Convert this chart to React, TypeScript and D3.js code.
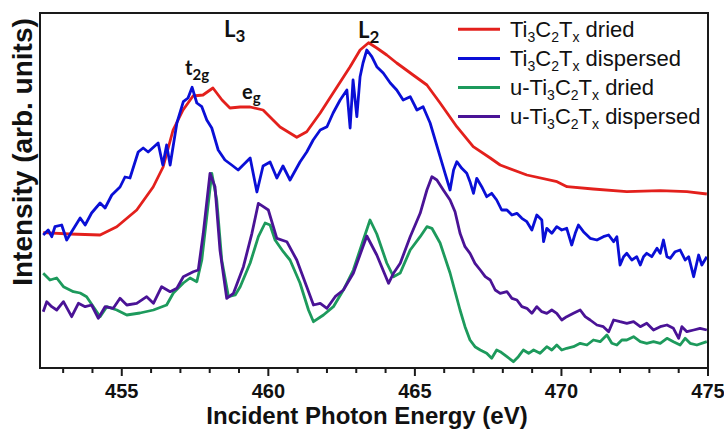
import React from 'react';
import * as d3 from 'd3';

const WIDTH = 724;
const HEIGHT = 430;
const PLOT = { left: 40, right: 708, top: 13, bottom: 368 };

const X_DOMAIN: [number, number] = [452.21, 475];
const Y_DOMAIN: [number, number] = [0, 355];
const MAJOR_TICKS = [455, 460, 465, 470, 475];
const MINOR_TICKS = [453, 454, 456, 457, 458, 459, 461, 462, 463, 464, 466, 467, 468, 469, 471, 472, 473, 474];

// Ti3C2Tx dried
const driedEnergy = [452.32, 453.23, 454.26, 454.83, 455.51, 456.07, 456.41, 456.75, 457.09, 457.43, 457.77, 458.11, 458.42, 458.69, 459.04, 459.38, 459.82, 460.16, 460.4, 460.97, 461.31, 461.77, 462.21, 462.79, 463.13, 463.42, 463.7, 464.04, 464.38, 464.94, 465.41, 465.86, 466.43, 466.99, 467.57, 467.91, 468.82, 469.85, 470.19, 471.08, 472.23, 473.37, 474.28, 474.96];
const driedIntensity = [135.3, 134, 133, 141.3, 158, 181, 201, 238, 258, 272, 273, 280, 268, 260, 261, 261, 258, 248, 241, 230.7, 236.3, 255, 275, 301.3, 318, 325.3, 320, 313, 305, 293, 283, 265, 241.3, 221.3, 210, 203, 193, 186.3, 181.3, 179, 176.3, 177.3, 176.3, 174];

// Ti3C2Tx dispersed
const dispEnergy = [452.32, 452.49, 452.61, 452.72, 452.95, 453.12, 453.29, 453.58, 453.75, 453.97, 454.26, 454.43, 454.66, 454.94, 455.11, 455.28, 455.56, 455.73, 455.9, 456.24, 456.4, 456.53, 456.65, 456.88, 457.1, 457.26, 457.4, 457.56, 457.73, 457.9, 458.07, 458.29, 458.52, 458.75, 458.97, 459.38, 459.61, 459.82, 460.06, 460.29, 460.5, 460.74, 461.08, 461.31, 461.53, 461.77, 462.0, 462.21, 462.45, 462.68, 462.79, 462.89, 463.02, 463.13, 463.23, 463.36, 463.53, 463.7, 463.92, 464.16, 464.38, 464.6, 464.84, 465.07, 465.28, 465.52,
  465.86, 466.03, 466.2, 466.32, 466.43, 466.6, 466.77, 466.88, 467.0, 467.11, 467.28, 467.45, 467.62, 467.79, 467.96, 468.14, 468.31, 468.48, 468.65, 468.82, 468.99, 469.16, 469.33,
  469.39, 469.5, 469.67, 469.84, 470.01, 470.18, 470.35, 470.47, 470.58, 470.75, 470.98, 471.21, 471.43, 471.61, 471.78, 471.89, 472.0, 472.12, 472.23, 472.4, 472.57, 472.69, 472.8, 472.91, 473.08, 473.26, 473.37, 473.48, 473.6, 473.71, 473.88, 474.05, 474.22, 474.34, 474.51, 474.68, 474.79, 474.96];
const dispIntensity = [133, 138, 131.3, 141.3, 143, 128, 136.3, 150, 143, 155, 165, 160, 173, 181, 191, 190, 216, 220, 216, 225, 203, 223, 203, 245, 266.3, 270, 280.7, 265, 261.3, 248, 240, 218, 208, 203, 198, 210, 176, 202, 206, 190, 202, 188, 206, 216, 228, 238, 241.3, 255, 268, 278, 240, 288, 251.3, 291.3, 305, 318, 311.3, 301.3, 295, 285, 278, 268, 271.3, 258, 261.3, 245,
  211.3, 194.7, 178, 198, 206.3, 199.7, 194.7, 186.3, 174.7, 189.7, 181.3, 171.3, 174.7, 168, 158, 158, 153, 154.7, 149.7, 146.3, 138, 153, 148,
  126.3, 139.7, 134.7, 141.3, 138, 139.7, 123, 134.7, 143, 136.3, 129.7, 128, 131.3, 133, 126.3, 131.3, 103, 111.3, 114.7, 108, 111.3, 103, 111.3, 114.7, 111.3, 119.7, 114.7, 128, 111.3, 109.7, 116.3, 118, 108, 111.3, 91.3, 113, 103, 111.3];

// u-Ti3C2Tx dried
const uDriedEnergy = [452.32, 452.55, 452.78, 453.01, 453.35, 453.58, 453.8, 454.03, 454.26, 454.49, 454.83, 455.17, 455.62, 456.08, 456.53, 456.76, 457.1, 457.33, 457.56, 457.73, 457.9, 458.07, 458.24, 458.41, 458.64, 458.87, 459.04, 459.38, 459.66, 459.89, 460.06, 460.23, 460.51, 460.74, 461.08, 461.37, 461.54, 461.88, 462.22, 462.56, 462.9, 463.24, 463.47, 463.7, 464.04, 464.27, 464.5, 464.84, 465.18, 465.41, 465.58, 465.86, 466.2,
  466.54, 466.71, 466.88, 467.05, 467.23, 467.45, 467.62, 467.79, 467.91, 468.14, 468.36, 468.53, 468.7, 468.88, 469.05, 469.27, 469.5, 469.67, 469.84, 470.01, 470.18, 470.41, 470.64, 470.87, 471.09, 471.32, 471.55, 471.72, 471.89, 472.06, 472.23, 472.46, 472.69, 472.91, 473.14, 473.37, 473.6, 473.82, 474.05, 474.22, 474.39, 474.62, 474.96];
const uDriedIntensity = [94.7, 88, 90, 81.3, 76.3, 75, 71.3, 61.3, 51.3, 61.3, 58, 53, 55, 58, 63, 75, 85, 90, 86.3, 108, 151.3, 194.7, 168, 108, 71.3, 73, 81.3, 105, 131.3, 145, 143, 128, 116.3, 108, 85, 58, 46.3, 53, 61.3, 78, 98, 128, 148, 134, 105, 91.3, 95, 118, 131.3, 141.3, 139.7, 125, 95,
  58, 41.3, 28, 21.3, 18, 14.7, 9.7, 18, 16.3, 11.3, 6.3, 11.3, 18, 14.7, 18, 14.7, 21.3, 18, 23, 18, 19.7, 21.3, 24.7, 23, 28, 26.3, 33, 24.7, 23, 28, 28, 31.3, 26.3, 24.7, 26.3, 24.7, 29.7, 26.3, 23, 29.7, 24.7, 23, 26.3];

// u-Ti3C2Tx dispersed
const uDispEnergy = [452.32, 452.44, 452.61, 452.78, 453.01, 453.29, 453.52, 453.75, 453.97, 454.2, 454.43, 454.71, 454.94, 455.17, 455.51, 455.85, 456.08, 456.36, 456.65, 456.88, 457.1, 457.44, 457.61, 457.78, 458.01, 458.18, 458.35, 458.58, 458.81, 459.15, 459.44, 459.66, 459.83, 460.0, 460.29, 460.63, 460.97, 461.31, 461.54, 461.77, 462.0, 462.28, 462.56, 462.9, 463.36, 463.7, 464.1, 464.27, 464.5, 464.84, 465.18, 465.41, 465.58, 465.75, 465.97, 466.2, 466.37,
  466.54, 466.71, 466.88, 467.05, 467.23, 467.4, 467.57, 467.74, 467.91, 468.14, 468.31, 468.48, 468.65, 468.82, 468.99, 469.16, 469.33, 469.5, 469.67, 469.84, 470.01, 470.18, 470.41, 470.64, 470.81, 470.98, 471.21, 471.43, 471.61, 471.78, 472.0, 472.23, 472.46, 472.69, 472.91, 473.14, 473.37, 473.6, 473.82, 474.0, 474.11, 474.28, 474.51, 474.73, 474.96];
const uDispIntensity = [56.3, 66.3, 61.3, 58, 66.3, 51.3, 64.7, 61.3, 63, 49.7, 61.3, 59.7, 69.7, 63, 64.7, 71.3, 64.7, 81.3, 76.3, 79.7, 91.3, 96.3, 98, 134.7, 194.7, 181.3, 118, 69.7, 74.7, 101.3, 134.7, 164.7, 161.3, 158, 129.7, 126.3, 108, 81.3, 63, 64.7, 59.7, 71.3, 78, 94.7, 132, 113, 84.7, 94.7, 104.7, 131.3, 154.7, 178, 191.3, 188, 178, 168, 156.3,
  134.7, 121.3, 114.7, 104.7, 98, 91.3, 88, 78, 74.7, 76.3, 69.7, 68, 61.3, 59.7, 54.7, 61.3, 56.3, 54.7, 58, 54.7, 48, 51.3, 54.7, 58, 51.3, 48, 43, 41.3, 36.3, 48, 46.3, 44.7, 46.3, 41.3, 44.7, 38, 41.3, 43, 39.7, 29.7, 41.3, 36.3, 38, 39.7, 38];

const seriesNames = ['Ti3C2Tx dried', 'Ti3C2Tx dispersed', 'u-Ti3C2Tx dried', 'u-Ti3C2Tx dispersed'];
const seriesColors = ['#e3201c', '#0a0fd6', '#1d9a5c', '#4a1396'];

type Pt = { e: number; v: number };
const zip = (es: number[], vs: number[]): Pt[] => es.map((e, i) => ({ e, v: vs[i] }));

const series = [
  { name: seriesNames[0], color: seriesColors[0], prefix: '', suffix: ' dried', points: zip(driedEnergy, driedIntensity) },
  { name: seriesNames[1], color: seriesColors[1], prefix: '', suffix: ' dispersed', points: zip(dispEnergy, dispIntensity) },
  { name: seriesNames[2], color: seriesColors[2], prefix: 'u-', suffix: ' dried', points: zip(uDriedEnergy, uDriedIntensity) },
  { name: seriesNames[3], color: seriesColors[3], prefix: 'u-', suffix: ' dispersed', points: zip(uDispEnergy, uDispIntensity) },
];

const AXIS_FONT = '"Liberation Sans", Arial, sans-serif';
const NOTE_FONT = 'Lato, "Open Sans", sans-serif';

const Formula: React.FC<{ prefix: string; suffix: string }> = ({ prefix, suffix }) => {
  const sub = { fontSize: 14 } as const;
  return (
    <>
      <tspan>{prefix}Ti</tspan>
      <tspan dy={5} style={sub}>3</tspan>
      <tspan dy={-5}>C</tspan>
      <tspan dy={5} style={sub}>2</tspan>
      <tspan dy={-5}>T</tspan>
      <tspan dy={5} style={sub}>x</tspan>
      <tspan dy={-5}>{suffix}</tspan>
    </>
  );
};

export default function App() {
  const x = d3.scaleLinear().domain(X_DOMAIN).range([PLOT.left, PLOT.right]);
  const y = d3.scaleLinear().domain(Y_DOMAIN).range([PLOT.bottom, PLOT.top]);

  const line = d3.line<Pt>()
    .x(d => x(d.e))
    .y(d => y(d.v))
    .curve(d3.curveLinear);

  return (
    <svg
      width={WIDTH}
      height={HEIGHT}
      style={{ position: 'absolute', left: 0, top: 0, background: '#fff' }}
    >
      <rect x={0} y={0} width={WIDTH} height={HEIGHT} fill="#fff" />

      {series.map(s => (
        <path
          key={s.name}
          d={line(s.points) ?? ''}
          fill="none"
          stroke={s.color}
          strokeWidth={2.8}
          strokeLinejoin="round"
        />
      ))}

      {/* frame */}
      <rect
        x={PLOT.left}
        y={PLOT.top}
        width={PLOT.right - PLOT.left}
        height={PLOT.bottom - PLOT.top}
        fill="none"
        stroke="#1a1a1a"
        strokeWidth={2}
      />

      {/* x ticks */}
      {MINOR_TICKS.map(t => (
        <line key={`m${t}`} x1={x(t)} x2={x(t)} y1={PLOT.bottom} y2={PLOT.bottom + 5} stroke="#1a1a1a" strokeWidth={2} />
      ))}
      {MAJOR_TICKS.map(t => (
        <g key={`M${t}`}>
          <line x1={x(t)} x2={x(t)} y1={PLOT.bottom} y2={PLOT.bottom + 8} stroke="#1a1a1a" strokeWidth={2} />
          <text
            x={x(t)}
            y={398}
            textAnchor="middle"
            fontFamily={AXIS_FONT}
            fontWeight="bold"
            fontSize={20}
            fill="#111"
          >
            {t}
          </text>
        </g>
      ))}

      <text
        x={367}
        y={424}
        textAnchor="middle"
        fontFamily={AXIS_FONT}
        fontWeight="bold"
        fontSize={24}
        fill="#111"
      >
        Incident Photon Energy (eV)
      </text>

      <text
        transform="translate(32,152) rotate(-90)"
        textAnchor="middle"
        fontFamily={AXIS_FONT}
        fontWeight="bold"
        fontSize={28}
        fill="#111"
      >
        Intensity (arb. units)
      </text>

      {/* peak annotations */}
      <g fontFamily={NOTE_FONT} fontWeight="bold" fill="#111">
        <text x={224} y={37} fontSize={22}>
          L<tspan dy={5} fontSize={17}>3</tspan>
        </text>
        <text x={358} y={38} fontSize={22}>
          L<tspan dy={5} fontSize={17}>2</tspan>
        </text>
        <text x={185} y={75} fontSize={20}>
          t<tspan dy={5} fontSize={15}>2g</tspan>
        </text>
        <text x={242} y={99} fontSize={20}>
          e<tspan dy={4} fontSize={15}>g</tspan>
        </text>
      </g>

      {/* legend */}
      {series.map((s, i) => {
        const ly = 29.3 + i * 29.1;
        return (
          <g key={`lg${s.name}`}>
            <line x1={458} x2={500} y1={ly} y2={ly} stroke={s.color} strokeWidth={3} />
            <text x={510} y={ly + 7.5} fontFamily={AXIS_FONT} fontSize={22} fill="#111">
              <Formula prefix={s.prefix} suffix={s.suffix} />
            </text>
          </g>
        );
      })}
    </svg>
  );
}
